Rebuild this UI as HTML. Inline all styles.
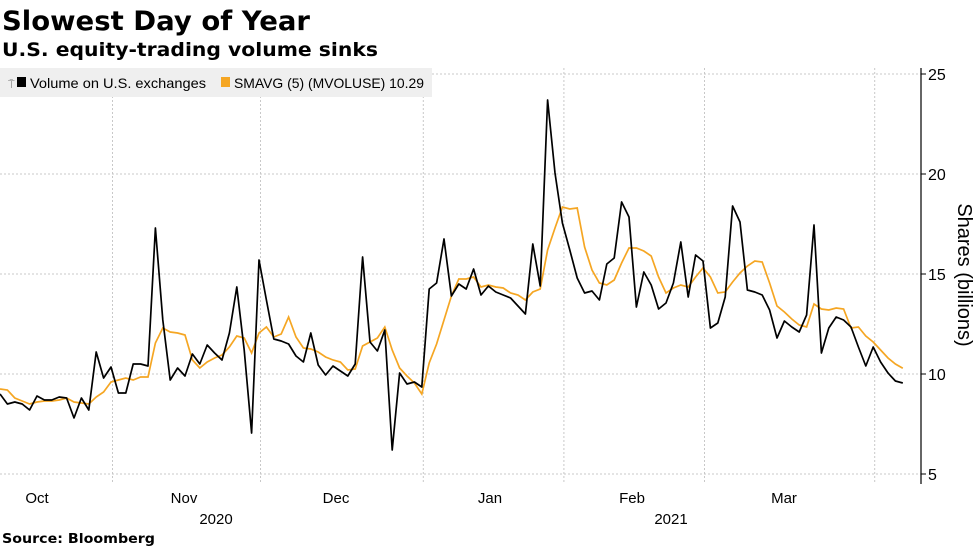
<!DOCTYPE html>
<html><head><meta charset="utf-8"><style>
body{margin:0;background:#fff;width:977px;height:549px;overflow:hidden}
svg{display:block;font-family:"Liberation Sans",sans-serif}
</style></head><body>
<svg id="chart" width="977" height="549" viewBox="0 0 977 549">
<text x="2" y="30" font-family="DejaVu Sans" font-weight="bold" font-size="27" textLength="308" lengthAdjust="spacingAndGlyphs">Slowest Day of Year</text>
<text x="2" y="56" font-family="DejaVu Sans" font-weight="bold" font-size="19" textLength="376" lengthAdjust="spacingAndGlyphs">U.S. equity-trading volume sinks</text>
<g id="grid"></g>
<g id="series"></g>
<g id="axes"></g>
<g>
<rect x="0" y="68" width="432" height="29" fill="#efefef"/>
<text x="8" y="88" font-size="11" fill="#777">⍑</text>
<rect x="17" y="77" width="9" height="10" fill="#000"/>
<text x="30" y="88" font-size="14" textLength="176" lengthAdjust="spacingAndGlyphs">Volume on U.S. exchanges</text>
<rect x="221" y="77" width="9" height="10" fill="#f5a623"/>
<text x="234" y="88" font-size="14" textLength="190" lengthAdjust="spacingAndGlyphs">SMAVG (5) (MVOLUSE) 10.29</text>
</g>
<text transform="translate(958,275) rotate(90)" text-anchor="middle" font-size="20">Shares (billions)</text>
<text x="2" y="543" font-family="DejaVu Sans" font-weight="bold" font-size="13" textLength="153" lengthAdjust="spacingAndGlyphs">Source: Bloomberg</text>
</svg>
<script>
const volume=[9.0,8.5,8.6,8.5,8.2,8.9,8.7,8.7,8.85,8.8,7.8,8.8,8.2,11.1,9.8,10.35,9.05,9.05,10.5,10.5,10.4,17.3,12.7,9.7,10.3,9.9,11.0,10.5,11.45,11.05,10.7,12.05,14.35,11.2,7.05,15.7,13.7,11.75,11.65,11.5,10.9,10.6,12.05,10.45,9.95,10.4,10.15,9.9,10.5,15.85,11.6,11.15,12.2,6.2,10.05,9.5,9.6,9.35,14.25,14.55,16.75,13.9,14.5,14.25,15.25,13.95,14.4,14.1,13.95,13.8,13.4,13.0,16.5,14.4,23.7,20.05,17.55,16.2,14.8,14.05,14.15,13.7,15.5,15.8,18.6,17.85,13.35,15.1,14.45,13.25,13.55,14.55,16.6,13.85,15.95,15.65,12.3,12.55,13.85,18.4,17.6,14.2,14.1,13.95,13.2,11.8,12.65,12.35,12.1,12.95,17.45,11.05,12.3,12.85,12.7,12.35,11.35,10.4,11.35,10.6,10.05,9.65,9.55];
const smavg=[9.25,9.2,8.8,8.65,8.5,8.6,8.65,8.65,8.7,8.8,8.6,8.55,8.5,8.85,9.1,9.6,9.7,9.8,9.7,9.85,9.85,11.55,12.3,12.1,12.05,11.95,10.7,10.3,10.6,10.8,10.95,11.35,11.9,11.8,11.05,12.05,12.35,11.85,12.0,12.85,11.85,11.3,11.25,11.1,10.85,10.7,10.6,10.2,10.25,11.4,11.6,11.8,12.35,11.2,10.3,9.9,9.55,9.0,10.55,11.5,12.7,13.9,14.75,14.75,14.85,14.35,14.45,14.35,14.3,14.05,13.95,13.7,14.1,14.25,16.2,17.3,18.35,18.25,18.3,16.35,15.2,14.55,14.45,14.7,15.55,16.3,16.3,16.15,15.9,14.85,14.05,14.3,14.45,14.35,14.85,15.3,14.85,14.05,14.1,14.6,15.05,15.4,15.65,15.6,14.55,13.4,13.1,12.75,12.45,12.35,13.5,13.25,13.2,13.3,13.25,12.3,12.35,11.9,11.6,11.2,10.8,10.5,10.29];
const yTicks=[5,10,15,20,25];
const monthLabels=["Oct","Nov","Dec","Jan","Feb","Mar"];
const monthBoundaryIdx=[15,35,57,76,95,118];
const yearLabels=["2020","2021"];

const NS="http://www.w3.org/2000/svg";
const AX=921, YTOP=74, PX=20;
function xs(i){return i*7.4;}
function ys(v){return YTOP+(25-v)*PX;}
function mk(tag,attrs,parent){const e=document.createElementNS(NS,tag);for(const k in attrs)e.setAttribute(k,attrs[k]);parent.appendChild(e);return e;}
const grid=document.getElementById('grid'),axes=document.getElementById('axes'),series=document.getElementById('series');
yTicks.forEach(t=>{
  const l=mk('line',{x1:0,x2:AX,y1:ys(t),y2:ys(t),stroke:'#c8c8c8','stroke-dasharray':'2,2'},grid);
  
  
  const tk=mk('line',{x1:AX,x2:AX+5,y1:ys(t),y2:ys(t),stroke:'#000'},axes);
  
  
  const tx=mk('text',{x:AX+7,y:ys(t)+6,'font-size':'16'},axes);
  tx.textContent=t;
  
  
});
const bx=monthBoundaryIdx.map(i=>xs(i)+1.5);
bx.forEach(x=>{
  const l=mk('line',{x1:x,x2:x,y1:68,y2:484,stroke:'#c8c8c8','stroke-dasharray':'2,2'},grid);
  
  
});
const centers=[37,184,336,490,632,784];
monthLabels.forEach((m,k)=>{
  const t=mk('text',{x:centers[k],y:503,'text-anchor':'middle','font-size':'15'},axes);
  t.textContent=m;
  
  
});
[[216,yearLabels[0]],[671,yearLabels[1]]].forEach(([x,s])=>{
  const t=mk('text',{x:x,y:524,'text-anchor':'middle','font-size':'15'},axes);
  t.textContent=s;
  
  
});
const ax=mk('line',{x1:AX,x2:AX,y1:68,y2:484,stroke:'#000','stroke-width':1.2},axes);


function path(arr){return arr.map((v,i)=>(i?'L':'M')+xs(i).toFixed(1)+','+ys(v).toFixed(1)).join('');}
const ps=mk('path',{d:path(smavg),fill:'none',stroke:'#f5a623','stroke-width':1.7},series);


const pv=mk('path',{d:path(volume),fill:'none',stroke:'#000','stroke-width':1.7,'stroke-linejoin':'round'},series);


</script>
</body></html>
